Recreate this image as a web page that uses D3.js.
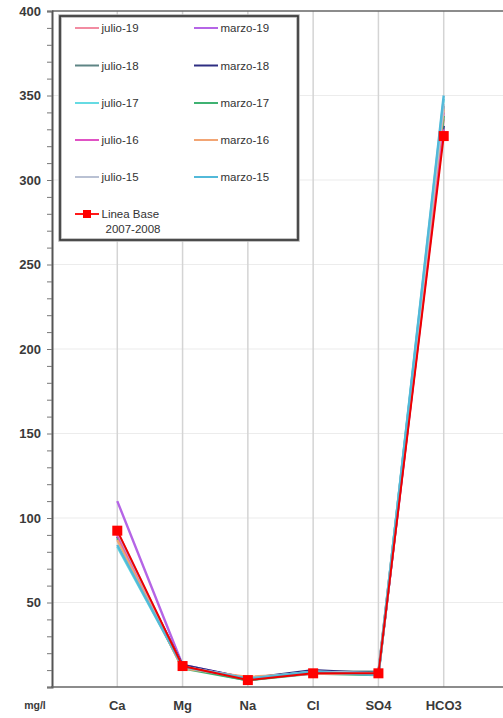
<!DOCTYPE html>
<html>
<head>
<meta charset="utf-8">
<script src="https://cdn.jsdelivr.net/npm/d3@7"></script>
<style>
  html, body { margin: 0; padding: 0; background: #fff; }
  svg { display: block; font-family: "Liberation Sans", Arial, sans-serif; }
</style>
</head>
<body>
<svg id="chart" width="503" height="718"></svg>
<script>
// Major ions (mg/l) per sampling campaign
const categories = ["Ca", "Mg", "Na", "Cl", "SO4", "HCO3"];
const yTicks = [50, 100, 150, 200, 250, 300, 350, 400];

const seriesNames = ["julio-19", "marzo-19", "julio-18", "marzo-18", "julio-17",
                     "marzo-17", "julio-16", "marzo-16", "julio-15", "marzo-15"];
const seriesColors = ["#f28ca2", "#b565e6", "#5e8585", "#2e2e82", "#66dbe3",
                      "#3fb272", "#e052c4", "#f2a574", "#b9c1d3", "#52b9d9"];

const julio19 = [90, 12, 5, 8, 8, 336];
const marzo19 = [110, 13, 5, 9, 8, 340];
const julio18 = [91, 12, 4, 9, 9, 344];
const marzo18 = [89, 13, 5, 10, 8, 332];
const julio17 = [83, 12, 5, 9, 8, 348];
const marzo17 = [88, 11, 4, 8, 7, 338];
const julio16 = [90, 12, 5, 8, 8, 330];
const marzo16 = [87, 11, 6, 8, 8, 342];
const julio15 = [92, 12, 5, 9, 8, 345];
const marzo15 = [84, 12, 5, 9, 7, 350];
const seriesValues = [julio19, marzo19, julio18, marzo18, julio17,
                      marzo17, julio16, marzo16, julio15, marzo15];

const baseName = ["Linea Base", "2007-2008"];
const baseValues = [92.5, 12.4, 4.1, 8.1, 8.1, 326];

const svg = d3.select("#chart");

const x = d3.scalePoint().domain(categories).range([52, 509]).padding(1);
const y = d3.scaleLinear().domain([0, 400]).range([687, 11]);

// Horizontal grid
svg.append("g")
  .selectAll("line")
  .data(yTicks.filter(d => d < 400))
  .join("line")
  .attr("x1", 52).attr("x2", 503)
  .attr("y1", d => y(d)).attr("y2", d => y(d))
  .attr("stroke", "#ececec").attr("stroke-width", 1.2);

// Vertical grid at each ion
svg.append("g")
  .selectAll("line")
  .data(categories)
  .join("line")
  .attr("x1", d => x(d)).attr("x2", d => x(d))
  .attr("y1", y(400)).attr("y2", y(0))
  .attr("stroke", "#d4d4d4").attr("stroke-width", 1.5);

// Top frame line
svg.append("line")
  .attr("x1", 52).attr("x2", 503)
  .attr("y1", y(400)).attr("y2", y(400))
  .attr("stroke", "#666").attr("stroke-width", 1.5);

// Y axis with minor ticks
const yAxis = d3.axisLeft(y).tickValues(d3.range(0, 401, 10)).tickSize(5).tickFormat("");
const yg = svg.append("g").attr("transform", "translate(52,0)").call(yAxis);
yg.select(".domain").attr("stroke", "#555").attr("stroke-width", 2);
yg.selectAll(".tick line").attr("stroke", "#777").attr("stroke-width", 1);

svg.append("g")
  .selectAll("text")
  .data(yTicks)
  .join("text")
  .attr("x", 41).attr("y", d => y(d) + 4.5)
  .attr("text-anchor", "end")
  .attr("font-size", 13).attr("font-weight", "bold").attr("fill", "#3a3a3a")
  .text(d => d);

// X axis line
svg.append("line")
  .attr("x1", 51).attr("x2", 503)
  .attr("y1", y(0)).attr("y2", y(0))
  .attr("stroke", "#666").attr("stroke-width", 1.5);

svg.append("g")
  .selectAll("text")
  .data(categories)
  .join("text")
  .attr("x", d => x(d)).attr("y", 710)
  .attr("text-anchor", "middle")
  .attr("font-size", 13).attr("font-weight", "bold").attr("fill", "#3a3a3a")
  .text(d => d);

svg.append("text")
  .attr("x", 35).attr("y", 709)
  .attr("text-anchor", "middle")
  .attr("font-size", 10.5).attr("font-weight", "bold").attr("fill", "#3a3a3a")
  .text("mg/l");

// Campaign lines
const line = d3.line().x((d, i) => x(categories[i])).y(d => y(d));

svg.append("g")
  .selectAll("path")
  .data(seriesValues)
  .join("path")
  .attr("d", d => line(d))
  .attr("fill", "none")
  .attr("stroke", (d, i) => seriesColors[i])
  .attr("stroke-width", 2.4)
  .attr("stroke-linejoin", "round");

// Baseline series with square markers
svg.append("path")
  .attr("d", line(baseValues))
  .attr("fill", "none")
  .attr("stroke", "#ee0000")
  .attr("stroke-width", 2);

svg.append("g")
  .selectAll("rect")
  .data(baseValues)
  .join("rect")
  .attr("x", (d, i) => x(categories[i]) - 5)
  .attr("y", d => y(d) - 5)
  .attr("width", 10).attr("height", 10)
  .attr("fill", "#ff0000");

// Legend
const lg = svg.append("g");
lg.append("rect")
  .attr("x", 60).attr("y", 16)
  .attr("width", 238).attr("height", 224)
  .attr("fill", "#fff")
  .attr("stroke", "#b0b0b0").attr("stroke-width", 3.5);
lg.append("rect")
  .attr("x", 60).attr("y", 16)
  .attr("width", 238).attr("height", 224)
  .attr("fill", "none")
  .attr("stroke", "#333").attr("stroke-width", 1.6);

const rowY = [28, 65.5, 103, 140, 177];
seriesNames.forEach((name, i) => {
  const col = i % 2, row = Math.floor(i / 2);
  const lx = col === 0 ? 75 : 194;
  const ly = rowY[row];
  lg.append("line")
    .attr("x1", lx).attr("x2", lx + 24)
    .attr("y1", ly).attr("y2", ly)
    .attr("stroke", seriesColors[i]).attr("stroke-width", 2);
  lg.append("text")
    .attr("x", lx + 26.5).attr("y", ly + 4)
    .attr("font-size", 11.5).attr("fill", "#333")
    .text(name);
});

lg.append("line")
  .attr("x1", 75).attr("x2", 99)
  .attr("y1", 214).attr("y2", 214)
  .attr("stroke", "#ff0000").attr("stroke-width", 1.8);
lg.append("rect")
  .attr("x", 83).attr("y", 210)
  .attr("width", 8).attr("height", 8)
  .attr("fill", "#ff0000");
lg.append("text")
  .attr("x", 101.5).attr("y", 218)
  .attr("font-size", 11.5).attr("fill", "#333")
  .text(baseName[0]);
lg.append("text")
  .attr("x", 105.5).attr("y", 233)
  .attr("font-size", 11.5).attr("fill", "#333")
  .text(baseName[1]);
</script>
</body>
</html>
